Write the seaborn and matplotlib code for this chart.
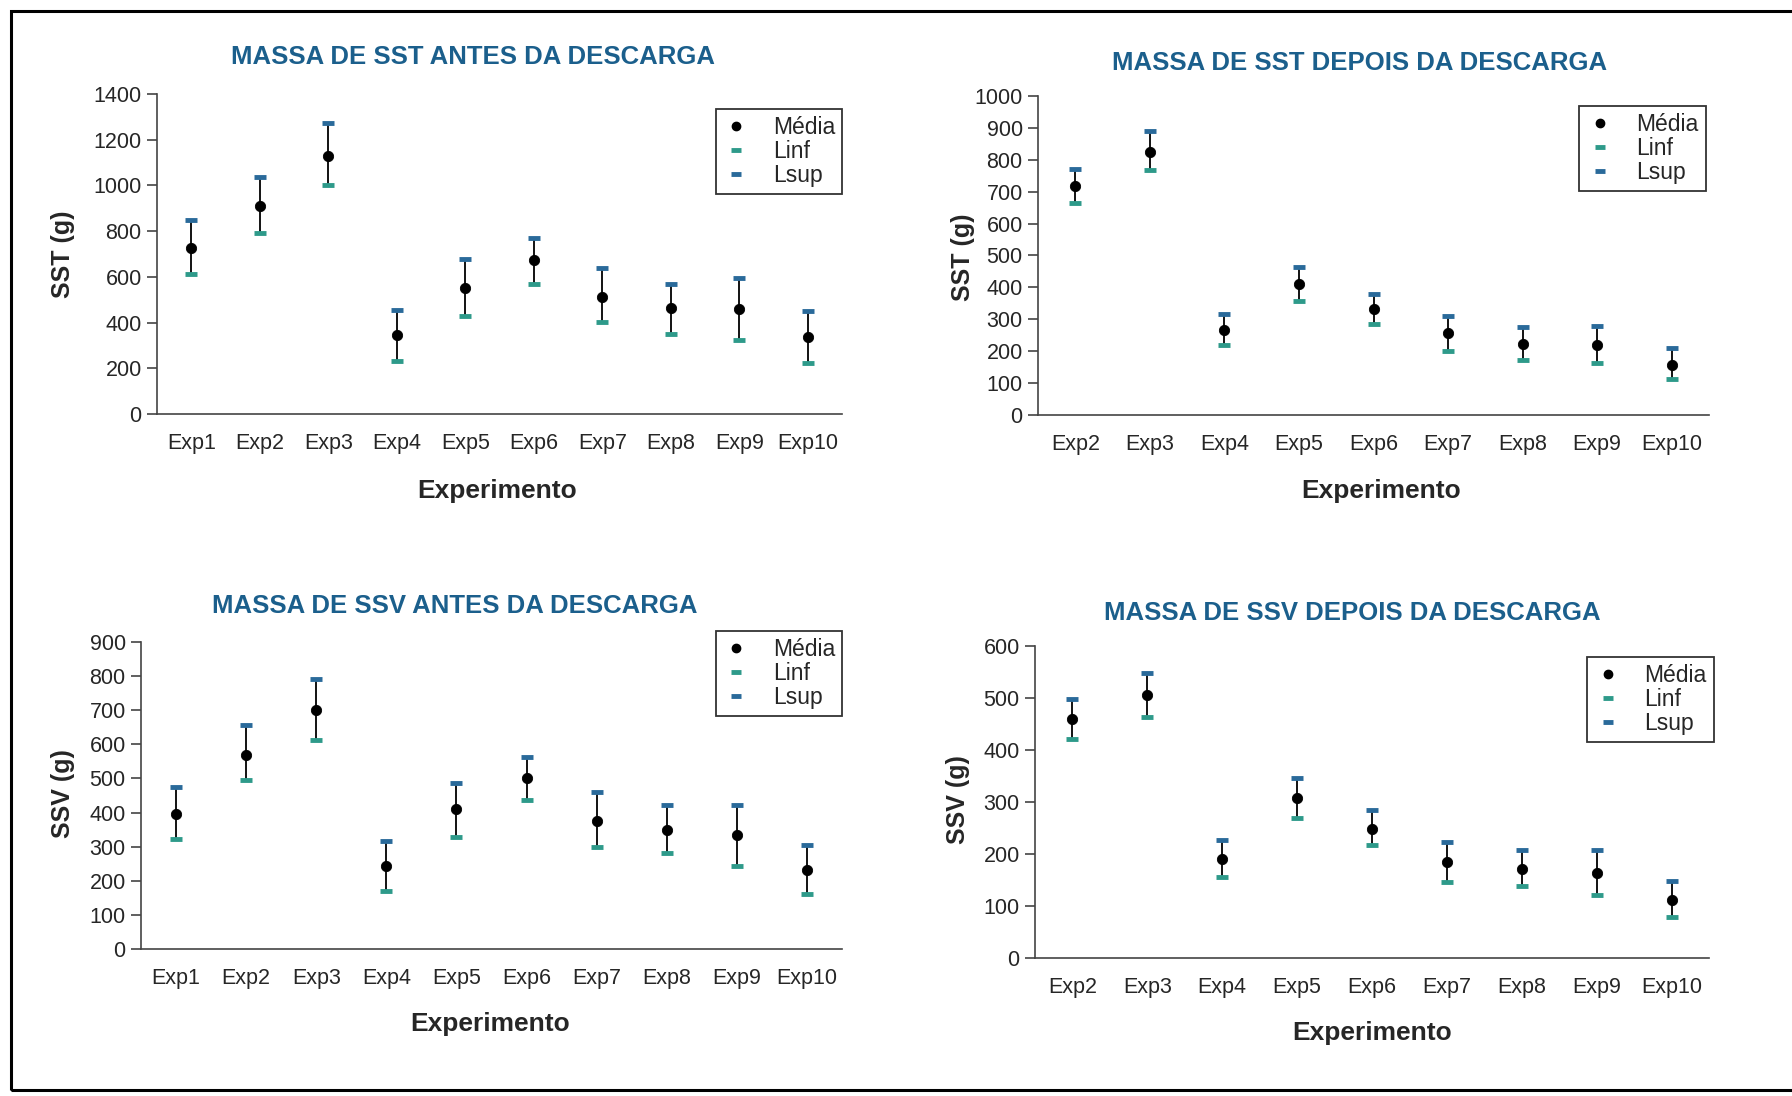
import numpy as np
import pandas as pd
import seaborn as sns
import matplotlib.pyplot as plt
from matplotlib.lines import Line2D

# categories
exp_antes = ["Exp1", "Exp2", "Exp3", "Exp4", "Exp5", "Exp6", "Exp7", "Exp8", "Exp9", "Exp10"]
exp_depois = ["Exp2", "Exp3", "Exp4", "Exp5", "Exp6", "Exp7", "Exp8", "Exp9", "Exp10"]

# SST antes da descarga
sst_antes_media = [725, 910, 1130, 346, 550, 674, 513, 462, 461, 338]
sst_antes_linf = [612, 790, 1000, 233, 429, 567, 401, 350, 324, 225]
sst_antes_lsup = [849, 1035, 1272, 455, 677, 771, 637, 569, 594, 452]

# SST depois da descarga
sst_depois_media = [717, 826, 268, 411, 333, 257, 222, 221, 157]
sst_depois_linf = [664, 769, 218, 356, 284, 201, 173, 163, 113]
sst_depois_lsup = [771, 889, 318, 464, 380, 310, 276, 280, 210]

# SSV antes da descarga
ssv_antes_media = [397, 570, 702, 244, 411, 500, 374, 350, 333, 232]
ssv_antes_linf = [323, 496, 612, 169, 329, 436, 298, 281, 244, 162]
ssv_antes_lsup = [476, 657, 792, 317, 488, 564, 460, 423, 423, 304]

# SSV depois da descarga
ssv_depois_media = [459, 505, 190, 307, 248, 185, 172, 163, 111]
ssv_depois_linf = [421, 464, 156, 269, 217, 147, 138, 121, 78]
ssv_depois_lsup = [499, 549, 226, 346, 284, 224, 208, 208, 148]

sns.set_style("white")
plt.rcParams['font.family'] = ['Liberation Sans Narrow', 'Liberation Sans', 'DejaVu Sans']

TITLE_C = '#1b5f8c'
LINF_C = '#2e9a8a'
LSUP_C = '#2a6a9a'
W, H = 1792, 1096

fig = plt.figure(figsize=(17.92, 10.96), dpi=100)

panels = [
    # (cats, media, linf, lsup, title, ylabel, ymax, ystep, axes box px, title pos, xlabel pos, ylabel pos, legend anchor)
    (exp_antes, sst_antes_media, sst_antes_linf, sst_antes_lsup,
     "MASSA DE SST ANTES DA DESCARGA", "SST (g)", 1400, 200,
     (157, 842, 94, 414), (473, 57), (497, 491), (63, 254), (1.0, 0.953)),
    (exp_depois, sst_depois_media, sst_depois_linf, sst_depois_lsup,
     "MASSA DE SST DEPOIS DA DESCARGA", "SST (g)", 1000, 100,
     (1038, 1709, 96, 415), (1360, 63), (1381, 491), (963, 257), (0.995, 0.969)),
    (exp_antes, ssv_antes_media, ssv_antes_linf, ssv_antes_lsup,
     "MASSA DE SSV ANTES DA DESCARGA", "SSV (g)", 900, 100,
     (141, 842, 642, 949), (455, 606), (490, 1024), (63, 794), (1.0, 1.036)),
    (exp_depois, ssv_depois_media, ssv_depois_linf, ssv_depois_lsup,
     "MASSA DE SSV DEPOIS DA DESCARGA", "SSV (g)", 600, 100,
     (1035, 1709, 646, 958), (1352, 613), (1372, 1033), (958, 800), (1.007, 0.965)),
]

for cats, media, linf, lsup, title, ylab, ymax, ystep, box, tpos, xlpos, ylpos, leg in panels:
    x0, x1, y0, y1 = box
    ax = fig.add_axes([x0 / W, 1 - y1 / H, (x1 - x0) / W, (y1 - y0) / H])
    df = pd.DataFrame({"exp": cats, "media": media, "linf": linf, "lsup": lsup})

    ax.vlines(df["exp"], df["linf"], df["lsup"], color='black', lw=1.3, zorder=2)
    sns.scatterplot(data=df, x="exp", y="linf", marker='_', s=75, linewidth=3.5,
                    color=LINF_C, ax=ax, zorder=3)
    sns.scatterplot(data=df, x="exp", y="lsup", marker='_', s=75, linewidth=3.5,
                    color=LSUP_C, ax=ax, zorder=3)
    sns.scatterplot(data=df, x="exp", y="media", marker='o', s=55, color='black',
                    edgecolor='black', ax=ax, zorder=4)

    n = len(cats)
    ax.set_xlim(-0.5, n - 0.5)
    ax.set_ylim(0, ymax)
    ax.set_yticks(np.arange(0, ymax + 1, ystep))
    ax.set_xticks(np.arange(-0.5, n, 1.0), minor=True)
    ax.tick_params(axis='x', which='major', length=0, pad=14, labelsize=15.5)
    ax.tick_params(axis='x', which='minor', length=10, direction='inout', width=1.2, color='#444')
    ax.tick_params(axis='y', which='major', length=7, direction='out', width=1.2, color='#444',
                   labelsize=15.5, pad=4, left=True)
    ax.set_xlabel("")
    ax.set_ylabel("")
    for s in ['top', 'right']:
        ax.spines[s].set_visible(False)
    for s in ['left', 'bottom']:
        ax.spines[s].set_color('#444')
        ax.spines[s].set_linewidth(1.2)

    fig.text(tpos[0] / W, 1 - tpos[1] / H, title, color=TITLE_C, fontsize=18.5,
             fontweight='bold', ha='center', va='center')
    fig.text(xlpos[0] / W, 1 - xlpos[1] / H, "Experimento", fontsize=19,
             fontweight='bold', ha='center', va='center', family='Liberation Sans')
    fig.text(ylpos[0] / W, 1 - ylpos[1] / H, ylab, fontsize=18, rotation=90,
             fontweight='bold', ha='center', va='center', family='Liberation Sans')

    handles = [
        Line2D([], [], ls='none', marker='o', color='black', markersize=6),
        Line2D([], [], ls='none', marker='_', color=LINF_C, markersize=7, markeredgewidth=3.5),
        Line2D([], [], ls='none', marker='_', color=LSUP_C, markersize=7, markeredgewidth=3.5),
    ]
    lg = ax.legend(handles, ["Média", "Linf", "Lsup"], loc='upper right', bbox_to_anchor=leg,
                   prop={'family': 'Liberation Sans', 'size': 16.5}, frameon=True,
                   fancybox=False, edgecolor='black',
                   labelspacing=0.05, handlelength=1.2, handletextpad=1.0,
                   borderpad=0.3, borderaxespad=0)
    lg.get_frame().set_linewidth(1.3)

# outer frame
fig.add_artist(plt.Rectangle((11 / W, 6 / H), 1 - 11 / W + 0.01, 1 - 17 / H,
                             transform=fig.transFigure, fill=False, lw=2.2,
                             edgecolor='black'))

plt.savefig("out.png", dpi=100)
